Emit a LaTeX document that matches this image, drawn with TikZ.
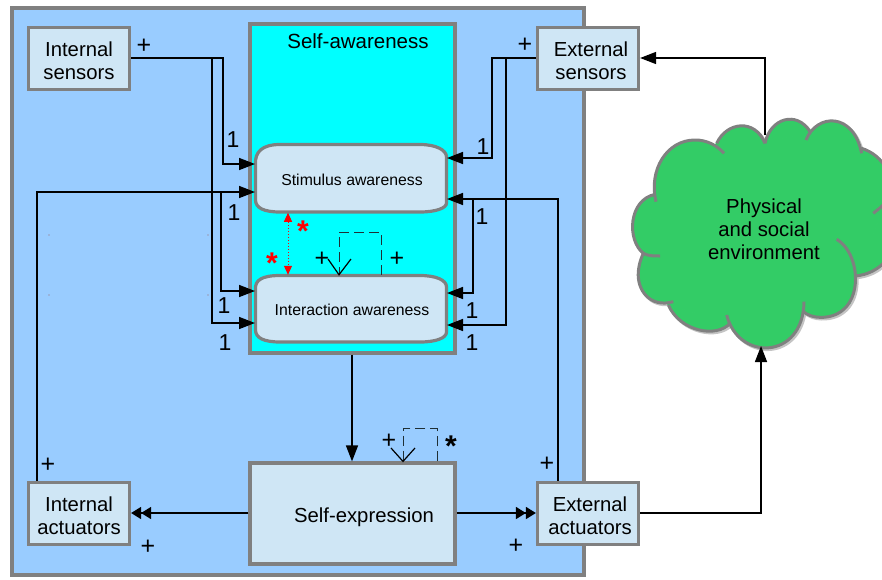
\documentclass[tikz,border=0pt]{standalone}
\usepackage{fontspec}
\setmainfont{Liberation Sans}
\usetikzlibrary{arrows.meta}
\definecolor{outerblue}{HTML}{99CCFF}
\definecolor{boxblue}{HTML}{CFE6F5}
\definecolor{edgegray}{HTML}{808080}
\definecolor{shadowgray}{HTML}{C4C4C4}
\definecolor{cloudgreen}{HTML}{33CC66}
\definecolor{loopgray}{HTML}{1F2F35}
\definecolor{puregreenblue}{RGB}{0,255,255}
\newcommand{\dn}{\rule{0pt}{18.5pt}}
\tikzset{
  boxnode/.style={draw=edgegray,line width=3.2pt,fill=boxblue,inner sep=0pt,align=center,font=\fontsize{20.3}{23}\selectfont},
  ghost/.style={inner sep=0pt,outer sep=0pt,align=center,font=\fontsize{15.8}{18}\selectfont},
  link/.style={line width=1.5pt,-{Triangle[length=16pt,width=12pt]}},
  dbl/.style={line width=1.5pt,-{Triangle[length=10pt,width=12pt]Triangle[length=10pt,width=12pt]}},
  redlink/.style={red,line width=1pt,dotted,{Triangle[length=9pt,width=8pt]}-{Triangle[length=9pt,width=8pt]}},
  loopline/.style={loopgray,line width=1pt,dash pattern=on 10pt off 5pt},
  openhead/.style={black,line width=1.2pt},
  sym/.style={inner sep=0pt,font=\fontsize{25}{25}\selectfont},
  one/.style={inner sep=0pt,font=\fontsize{23}{23}\selectfont},
  star/.style={inner sep=0pt,font=\bfseries\fontsize{30}{30}\selectfont},
  speck/.style={fill=edgegray!80!red,inner sep=0pt,minimum size=1.2pt,circle},
  cloudpart/.style={fill=cloudgreen,draw=cloudgreen,line width=1pt},
}
\def\arcA{(108,305) .. controls (85,210) and (140,120) .. (225,120) .. controls (260,120) and (290,135) .. (312,160)}
\def\arcB{(290,130) .. controls (320,65) and (405,55) .. (435,130)}
\def\arcC{(435,130) .. controls (450,55) and (530,30) .. (570,95)}
\def\arcD{(558,120) .. controls (590,40) and (700,35) .. (725,160)}
\def\arcE{(725,145) .. controls (790,165) and (835,240) .. (800,300) .. controls (785,325) and (772,328) .. (760,340)}
\def\arcF{(800,300) .. controls (850,340) and (850,510) .. (708,528)}
\def\arcG{(650,418) .. controls (730,465) and (735,655) .. (600,652) .. controls (580,652) and (562,645) .. (550,635)}
\def\arcH{(552,605) .. controls (550,780) and (355,785) .. (320,645)}
\def\arcI{(330,670) .. controls (290,715) and (180,695) .. (145,615)}
\def\arcJ{(160,605) .. controls (90,625) and (50,570) .. (55,515) .. controls (57,490) and (65,470) .. (70,460) .. controls (85,468) and (100,468) .. (120,468)}
\def\arcK{(70,460) .. controls (20,420) and (25,300) .. (105,283)}
\begin{document}
\begin{tikzpicture}[x=1pt,y=-1pt]
\useasboundingbox (0,0) rectangle (882,579);
\clip (0,0) rectangle (882,579);
% containers
\node[draw=edgegray,line width=3.2pt,fill=outerblue,inner sep=0pt,minimum width=572pt,minimum height=567pt] (outer) at (298,291.5) {};
\node[draw=edgegray,line width=3.2pt,fill=puregreenblue,inner sep=0pt,minimum width=205pt,minimum height=329pt] (aware) at (352.5,188.5) {};
\node[ghost,font=\fontsize{20.5}{23}\selectfont] (awaretitle) at (358,41) {Self-awareness};
% rounded awareness shapes
\path[draw=edgegray,line width=3.2pt,fill=boxblue]
  (255.5,165) .. controls (254.5,152) and (262,144.5) .. (280,144.5) -- (420,144.5)
  .. controls (436,144.5) and (446.5,150) .. (446.5,157) -- (446.5,203)
  .. controls (446.5,208) and (436,212) .. (420,212) -- (280,212)
  .. controls (264,212) and (255.5,208) .. (255.5,200) -- cycle;
\path[draw=edgegray,line width=3.2pt,fill=boxblue]
  (255.5,290) .. controls (254.5,280) and (262,275.5) .. (280,275.5) -- (420,275.5)
  .. controls (436,275.5) and (446.5,280) .. (446.5,287) -- (446.5,332)
  .. controls (446.5,338) and (436,342) .. (420,342) -- (280,342)
  .. controls (264,342) and (255.5,338) .. (255.5,330) -- cycle;
\node[ghost,minimum width=192pt,minimum height=69pt] (stim) at (351,178.25) {};
\node[ghost,minimum width=192pt,minimum height=68pt] (inter) at (351,308.75) {};
\node[ghost] (stimtext) at (352,180) {Stimulus awareness};
\node[ghost] (intertext) at (352,310) {Interaction awareness};
% boxes
\node[boxnode,minimum width=101pt,minimum height=62pt] (isens) at (79,58.5) {\dn Internal\\sensors};
\node[boxnode,minimum width=101pt,minimum height=62pt] (esens) at (588,58.5) {\dn\hspace*{6pt}External\\\hspace*{6pt}sensors};
\node[boxnode,minimum width=101pt,minimum height=62pt] (iact) at (79,513.5) {\dn Internal\\actuators};
\node[boxnode,minimum width=101pt,minimum height=62pt] (eact) at (588,513.5) {\dn\hspace*{4pt}External\\\hspace*{4pt}actuators};
\node[boxnode,minimum width=205pt,minimum height=101pt] (sexp) at (352.5,513.5) {\rule{0pt}{22pt}\hspace*{23pt}Self-expression};
% cloud
\begin{scope}[shift={(620,100)},x=0.33333pt,y=-0.33333pt]
  \begin{scope}[shift={(5,5)}]
    \foreach \a in {\arcA,\arcB,\arcC,\arcD,\arcE,\arcF,\arcG,\arcH,\arcI,\arcJ,\arcK}
      \draw[shadowgray,line width=3pt] \a;
  \end{scope}
  \path[cloudpart] (105,283) -- (290,130) -- (435,130) -- (570,95) -- (558,120) -- (725,145) -- (800,300) -- (708,528) -- (690,610) -- (550,635) -- (320,645) -- (330,670) -- (145,615) -- (70,460) -- cycle;
  \foreach \a in {\arcA,\arcB,\arcC,\arcD,\arcE,\arcF,\arcG,\arcH,\arcI,\arcJ,\arcK}
    \path[cloudpart] \a -- cycle;
  \foreach \a in {\arcA,\arcB,\arcC,\arcD,\arcE,\arcF,\arcG,\arcH,\arcI,\arcJ,\arcK}
    \draw[edgegray,line width=3pt] \a;
  \coordinate (cloudtop) at (435,105);
  \coordinate (cloudbottom) at (425,738);
\end{scope}
\node[inner sep=0pt,align=center,font=\fontsize{20.3}{23}\selectfont] (cloudtext) at (764,229) {Physical\\and social\\environment};
% internal sensors
\draw[link] (isens.east |- 0,58) -- (223,58) -- (223,164) -- (stim.west |- 0,164);
\draw[link] (212,58) -- (212,323) -- (inter.west |- 0,323);
% internal actuators
\draw[link] (iact.north -| 37,0) -- (37,192) -- (stim.west |- 0,192);
\draw[link] (221,192) -- (221,291) -- (inter.west |- 0,291);
% external sensors
\draw[link] (esens.west |- 0,58) -- (492,58) -- (492,158) -- (stim.east |- 0,158);
\draw[link] (506,58) -- (506,325) -- (inter.east |- 0,325);
% external actuators
\draw[link] (eact.north -| 558,0) -- (558,199) -- (stim.east |- 0,199);
\draw[link] (473,199) -- (473,293) -- (inter.east |- 0,293);
% main flow
\draw[link] (aware.south -| 352,0) -- (sexp.north -| 352,0);
\draw[dbl] (sexp.west |- 0,513) -- (iact.east |- 0,513);
\draw[dbl] (sexp.east |- 0,513) -- (eact.west |- 0,513);
\draw[link] (eact.east |- 0,513) -- (761,513) -- (cloudbottom -| 761,0);
\draw[link] (cloudtop -| 765,0) -- (765,58) -- (esens.east |- 0,58);
% red link
\draw[redlink] (stim.south -| 288,0) -- (inter.north -| 288,0);
% self loops
\draw[loopline] (inter.north -| 381,0) -- (381,232) -- (339,232) -- (inter.north -| 339,0);
\coordinate (tipa) at (inter.north -| 339,0);
\draw[openhead] (328,259) -- (tipa) -- (351,259);
\draw[loopline] (sexp.north -| 437,0) -- (437,428) -- (403,428) -- (sexp.north -| 403,0);
\coordinate (tipb) at (sexp.north -| 403,0);
\draw[openhead] (391,448) -- (tipb) -- (415,448);
% plus labels
\node[sym] (p1) at (144,46) {+};
\node[sym] (p2) at (525,45) {+};
\node[sym] (p3) at (48,465) {+};
\node[sym] (p4) at (148,547) {+};
\node[sym] (p5) at (547,464) {+};
\node[sym] (p6) at (516,546) {+};
\node[sym] (p7) at (322,259) {+};
\node[sym] (p8) at (397,259) {+};
\node[sym] (p9) at (389,441) {+};
% ones
\node[one] (o1) at (233,140) {1};
\node[one] (o2) at (234,213) {1};
\node[one] (o3) at (224,306) {1};
\node[one] (o4) at (225,343) {1};
\node[one] (o5) at (483,147) {1};
\node[one] (o6) at (482,217) {1};
\node[one] (o7) at (472,311) {1};
\node[one] (o8) at (472,343) {1};
% stars
\node[star,red] (s1) at (303,231) {*};
\node[star,red] (s2) at (272,263) {*};
\node[star] (s3) at (451,446) {*};
% specks
\node[speck] (d1) at (49,235) {};
\node[speck] (d2) at (208,235) {};
\node[speck] (d3) at (49,295) {};
\node[speck] (d4) at (208,295) {};
\end{tikzpicture}
\end{document}
